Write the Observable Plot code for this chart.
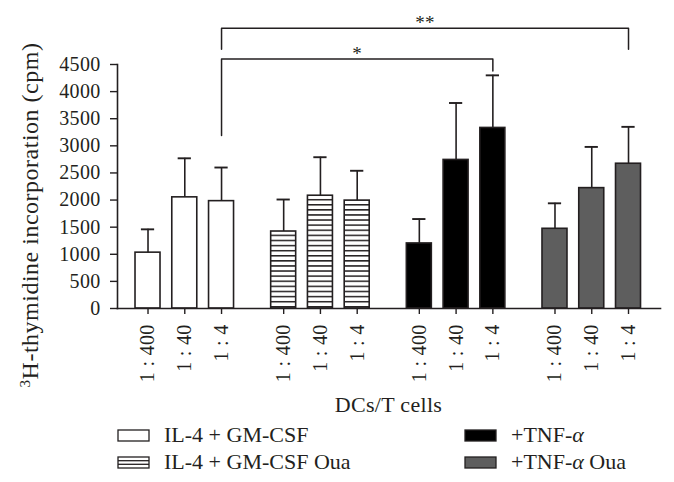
<!DOCTYPE html>
<html>
<head>
<meta charset="utf-8">
<script src="https://cdn.jsdelivr.net/npm/d3@7"></script>
<script src="https://cdn.jsdelivr.net/npm/@observablehq/plot@0.6"></script>
<style>
  body { margin: 0; background: #fff; }
  #wrap { position: relative; width: 674px; height: 482px; font-family: "Liberation Serif", serif; color: #231f20; }
  .leg { position: absolute; display: flex; align-items: center; font-size: 22px; line-height: 26px; white-space: nowrap; }
  .leg svg { display: block; }
</style>
</head>
<body>
<div id="wrap"><div id="chart"></div></div>
<script>
// ---- data ----
const groups = ["IL-4 + GM-CSF", "IL-4 + GM-CSF Oua", "+TNF-α", "+TNF-α Oua"];
const ratios = ["1 : 400", "1 : 40", "1 : 4"];
const meansIL4 = [1030, 2050, 1980];
const meansIL4Oua = [1420, 2080, 1990];
const meansTNF = [1200, 2740, 3330];
const meansTNFOua = [1470, 2220, 2670];
const errIL4 = [430, 720, 620];
const errIL4Oua = [590, 710, 550];
const errTNF = [450, 1050, 970];
const errTNFOua = [470, 760, 680];
const yTicks = [0, 500, 1000, 1500, 2000, 2500, 3000, 3500, 4000, 4500];
// significance brackets: [group, ratio] endpoints, bracket height and leg ends (cpm)
const sigLabels = ["*", "**"];
const sigFrom = [[0, 2], [0, 2]];
const sigTo = [[2, 2], [3, 2]];
const sigTop = [4600, 5170];
const sigLeftEnd = [3190, 4780];
const sigRightEnd = [4380, 4780];

// ---- layout ----
const groupStep = 3.69;     // slot units between group starts
const barHalf = 0.34;
const capHalf = 0.18;
const pos = (g, r) => g * groupStep + r;
const ink = "#231f20";
const fills = ["#ffffff", "url(#hatch)", "#000000", "#5e5e5e"];
const meansAll = [meansIL4, meansIL4Oua, meansTNF, meansTNFOua];
const errAll = [errIL4, errIL4Oua, errTNF, errTNFOua];

const rows = [];
groups.forEach((g, gi) => ratios.forEach((r, ri) => rows.push({
  group: g, gi, ratio: r, x: pos(gi, ri), mean: meansAll[gi][ri], err: errAll[gi][ri]
})));
const tickPos = rows.map(d => d.x);
const tickLab = new Map(rows.map(d => [d.x, d.ratio]));

const bracketLines = sigLabels.map((lab, i) => {
  const xl = pos(...sigFrom[i]), xr = pos(...sigTo[i]);
  return [
    {x: xl, y: sigLeftEnd[i]}, {x: xl, y: sigTop[i]},
    {x: xr, y: sigTop[i]}, {x: xr, y: sigRightEnd[i]}
  ];
});
const bracketText = sigLabels.map((lab, i) => ({
  label: lab, x: (pos(...sigFrom[i]) + pos(...sigTo[i])) / 2, y: sigTop[i]
}));

const marks = [];
groups.forEach((g, gi) => {
  marks.push(Plot.rect(rows.filter(d => d.gi === gi), {
    x1: d => d.x - barHalf, x2: d => d.x + barHalf, y1: 0, y2: "mean",
    fill: fills[gi], stroke: ink, strokeWidth: 1.6
  }));
});
marks.push(
  Plot.ruleX(rows, {x: "x", y1: "mean", y2: d => d.mean + d.err, stroke: ink, strokeWidth: 1.6}),
  Plot.ruleY(rows, {y: d => d.mean + d.err, x1: d => d.x - capHalf, x2: d => d.x + capHalf, stroke: ink, strokeWidth: 1.9}),
  Plot.axisY({ticks: yTicks, tickFormat: d => String(d), tickSize: 7, tickPadding: 10, label: null, fontSize: 20, stroke: ink, strokeWidth: 1.4, fill: ink}),
  Plot.axisX({ticks: tickPos, tickFormat: d => tickLab.get(d), tickRotate: -90, tickSize: 6, tickPadding: 10,
    label: null, fontSize: 20, stroke: ink, strokeWidth: 1.4, fill: ink}),
  Plot.frame({anchor: "left", stroke: ink, strokeWidth: 1.6}),
  Plot.frame({anchor: "bottom", stroke: ink, strokeWidth: 1.6}),
  ...bracketLines.map(pts => Plot.line(pts, {x: "x", y: "y", stroke: ink, strokeWidth: 1.5, clip: false})),
  Plot.text(bracketText, {x: "x", y: "y", text: "label", fontSize: 19, dy: -5, fill: ink})
);

const svg = Plot.plot({
  width: 674, height: 420,
  marginTop: 64, marginBottom: 112, marginLeft: 117, marginRight: 14,
  x: {type: "linear", domain: [-0.83, 13.94]},
  y: {domain: [0, 4500]},
  style: {fontFamily: "Liberation Serif, serif", fontSize: "20px", color: ink, background: "#fff", overflow: "visible", letterSpacing: "0.3px"},
  marks
});

// hatch pattern for the Oua bars
const sel = d3.select(svg);
const defs = sel.insert("defs", ":first-child");
const pat = defs.append("pattern").attr("id", "hatch").attr("patternUnits", "userSpaceOnUse")
  .attr("width", 10).attr("height", 5.1);
pat.append("rect").attr("width", 10).attr("height", 5.1).attr("fill", "#fff");
pat.append("rect").attr("y", 0).attr("width", 10).attr("height", 1.5).attr("fill", ink);

// axis titles
sel.append("text").attr("transform", "translate(38,215) rotate(-90)").attr("text-anchor", "middle")
  .attr("font-size", 24).attr("letter-spacing", "0.5px").attr("fill", ink)
  .html('<tspan baseline-shift="super" font-size="15">3</tspan>H-thymidine incorporation (cpm)');
sel.append("text").attr("x", 388.5).attr("y", 412).attr("text-anchor", "middle")
  .attr("font-size", 22).attr("fill", ink).text("DCs/T cells");

document.getElementById("chart").appendChild(svg);

// legend
const wrap = document.getElementById("wrap");
const legPos = [[117, 435], [117, 462], [464, 435], [464, 462]];
groups.forEach((g, gi) => {
  const div = document.createElement("div");
  div.className = "leg";
  div.style.left = legPos[gi][0] + "px";
  div.style.top = (legPos[gi][1] - 13) + "px";
  let sw;
  if (gi === 1) {
    sw = `<svg width="33" height="13"><rect x="1" y="1" width="31" height="11" fill="#fff" stroke="${ink}" stroke-width="1.3"/>
      <line x1="1" x2="32" y1="4.7" y2="4.7" stroke="${ink}" stroke-width="1.3"/><line x1="1" x2="32" y1="8.3" y2="8.3" stroke="${ink}" stroke-width="1.3"/></svg>`;
  } else {
    sw = `<svg width="33" height="13"><rect x="1" y="1" width="31" height="11" fill="${fills[gi]}" stroke="${ink}" stroke-width="1.3"/></svg>`;
  }
  const label = g.replace("α", "<i>α</i>");
  div.innerHTML = sw + `<span style="margin-left:14px">${label}</span>`;
  wrap.appendChild(div);
});
</script>
</body>
</html>
